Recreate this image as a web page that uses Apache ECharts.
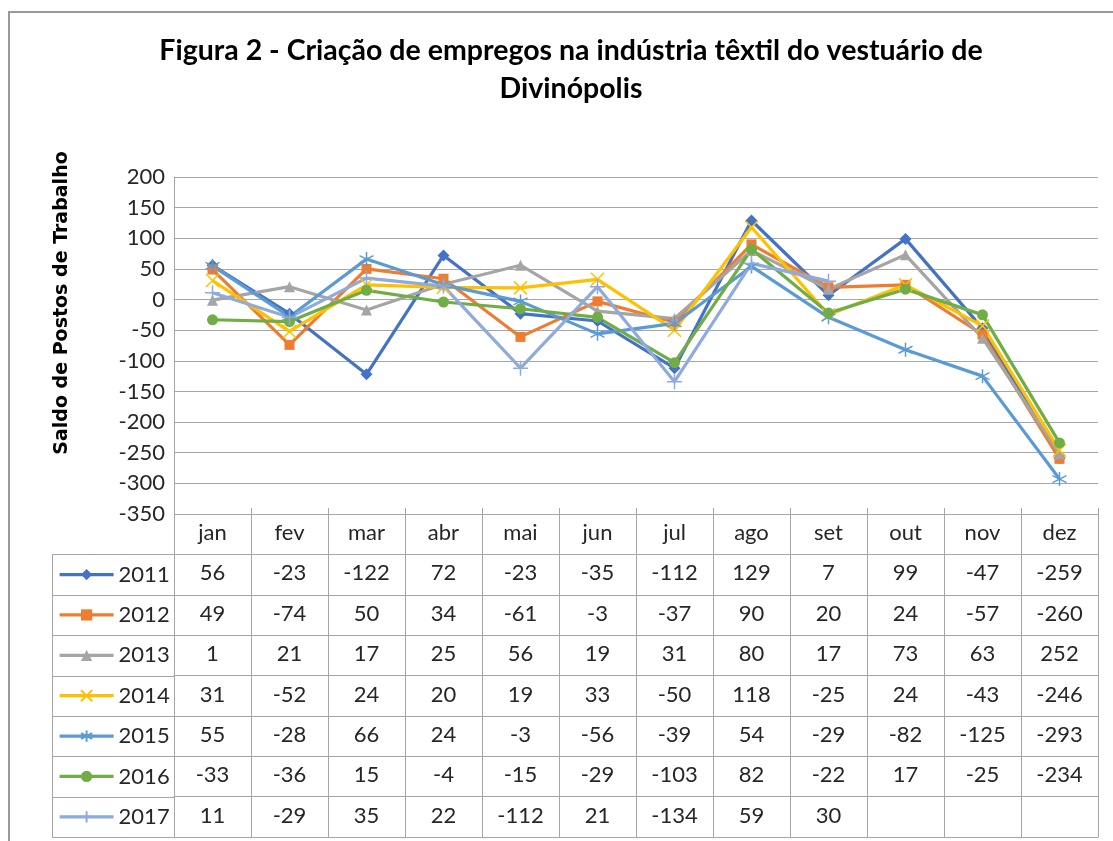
<!DOCTYPE html>
<html>
<head>
<meta charset="utf-8">
<script src="https://cdn.jsdelivr.net/npm/echarts@6/dist/echarts.min.js"></script>
<style>html,body{margin:0;padding:0;background:#fff}#c{width:1113px;height:841px}</style>
</head>
<body>
<div id="c"></div>
<script>
// ---- data ----
const months = ['jan','fev','mar','abr','mai','jun','jul','ago','set','out','nov','dez'];
const years = ['2011','2012','2013','2014','2015','2016','2017'];
const s2011 = [56,-23,-122,72,-23,-35,-112,129,7,99,-47,-259];
const s2012 = [49,-74,50,34,-61,-3,-37,90,20,24,-57,-260];
// plotted values for 2013 (the printed table lost the minus signs)
const s2013 = [-1,21,-17,25,56,-19,-31,80,17,73,-63,-252];
const s2013Printed = ['1','21','17','25','56','19','31','80','17','73','63','252'];
const s2014 = [31,-52,24,20,19,33,-50,118,-25,24,-43,-246];
const s2015 = [55,-28,66,24,-3,-56,-39,54,-29,-82,-125,-293];
const s2016 = [-33,-36,15,-4,-15,-29,-103,82,-22,17,-25,-234];
const s2017 = [11,-29,35,22,-112,21,-134,59,30,null,null,null];
const yMin = -350, yMax = 200, yStep = 50;
const titleText = 'Figura 2 - Criação de empregos na indústria têxtil do vestuário de\nDivinópolis';
const yName = 'Saldo de Postos de Trabalho';

// ---- styling ----
const values = [s2011,s2012,s2013,s2014,s2015,s2016,s2017];
const colors = ['#4472C4','#ED7D31','#A5A5A5','#FFC000','#5B9BD5','#70AD47','#8FAADC'];
const symbols = ['diamond','rect','triangle','path://M0,0L10,10M10,0L0,10',
  'path://M5,0L5,10M0,2.5L10,7.5M0,7.5L10,2.5','circle','path://M5,0L5,10M0,5L10,5'];
const symbolSizes = [12,10,11,13,14,11,15];
const strokeSym = [false,false,false,true,true,false,true];
const printed = values.map((v,i)=> i===2 ? s2013Printed : v.map(x => x===null ? '' : String(x)));

const gridLeft = 174, gridRight = 1098, gridTop = 177, gridBottom = 514;
const tableBottom = 837;
const rowH = (tableBottom - gridBottom) / 8;
const lineColor = '#a6a6a6';
const txt = '#262626';
const font = 'Lato';

const chart = echarts.init(document.getElementById('c'), null, {renderer:'canvas'});

const xAxes = [{
  type:'category', data: months, gridIndex:0, position:'bottom', boundaryGap:true,
  axisLine:{show:true, lineStyle:{color:lineColor, width:1}},
  axisTick:{show:false},
  axisLabel:{interval:0, margin:8, fontSize:22, fontFamily:font, color:txt},
  splitLine:{show:false}
}];
years.forEach((y,i)=>{
  xAxes.push({
    type:'category', data: months, gridIndex:0, position:'bottom', boundaryGap:true,
    offset: rowH*(i+1),
    axisLine:{show:true, lineStyle:{color:lineColor, width:1}},
    axisTick:{show:false},
    axisLabel:{interval:0, margin:8, fontSize:22, fontFamily:font, color:txt,
      formatter:(v, idx)=> printed[i][idx]},
    splitLine:{show:false}
  });
});
xAxes.push({
  type:'category', data: months, gridIndex:0, position:'bottom', boundaryGap:true,
  offset: rowH*8,
  axisLine:{show:true, lineStyle:{color:lineColor, width:1}},
  axisTick:{show:false}, axisLabel:{show:false}, splitLine:{show:false}
});

const series = years.map((y,i)=>({
  name:y, type:'line', data: values[i], xAxisIndex:0, yAxisIndex:0,
  symbol: symbols[i], symbolSize: symbolSizes[i], showAllSymbol:true,
  lineStyle:{color:colors[i], width:3.2},
  itemStyle: strokeSym[i] ? {color:colors[i], borderColor:colors[i], borderWidth:1.5} : {color:colors[i]},
  emphasis:{disabled:true}
}));

// one legend per table row
const legends = years.map((y,i)=>({
  orient:'horizontal', left:58, top: gridBottom + rowH*(i+1) + (rowH-22)/2, padding:0,
  itemWidth:54, itemHeight:14, data:[y], selectedMode:false,
  lineStyle:{width:3.2},
  textStyle:{fontSize:22, lineHeight:22, fontFamily:font, color:txt}
}));

// table frame lines
const gfx = [];
gfx.push({type:'rect', shape:{x:9, y:12, width:1200, height:1000}, style:{fill:'none', stroke:'#9a9a9a', lineWidth:2}, silent:true});
for (let i=1;i<=8;i++){
  const yy = Math.round(gridBottom + rowH*i) + 0.5;
  gfx.push({type:'line', shape:{x1:52, y1:yy, x2:gridLeft, y2:yy}, style:{stroke:lineColor, lineWidth:1}, silent:true});
}
gfx.push({type:'line', shape:{x1:52.5, y1:gridBottom+rowH, x2:52.5, y2:tableBottom}, style:{stroke:lineColor, lineWidth:1}, silent:true});
const bandW = (gridRight - gridLeft) / months.length;
for (let k=0;k<=months.length;k++){
  const xx = Math.round(gridLeft + bandW*k) + 0.5;
  gfx.push({type:'line', shape:{x1:xx, y1:gridBottom-6, x2:xx, y2:tableBottom}, style:{stroke:lineColor, lineWidth:1}, silent:true});
}
gfx.push({type:'text', x:62, y:303, rotation:Math.PI/2,
  style:{text:yName, fontSize:19, fontWeight:'bold', fontFamily:'DejaVu Sans', fill:'#000', align:'center', verticalAlign:'middle'}, silent:true});

chart.setOption({
  animation:false,
  backgroundColor:'#fff',
  title:{text:titleText, left:566, top:27, textAlign:'center',
    textStyle:{fontFamily:font, fontWeight:'bold', fontSize:28.5, lineHeight:38, color:'#000'}},
  grid:{left:gridLeft, right:1113-gridRight, top:gridTop, bottom:841-gridBottom, containLabel:false},
  xAxis: xAxes,
  yAxis:{type:'value', min:yMin, max:yMax, interval:yStep,
    axisLine:{show:true, lineStyle:{color:lineColor, width:1}},
    axisTick:{show:false},
    axisLabel:{margin:9, fontSize:22, fontFamily:font, color:txt},
    splitLine:{show:true, lineStyle:{color:lineColor, width:1}}},
  legend: legends,
  graphic: gfx,
  series: series
});
</script>
</body>
</html>
